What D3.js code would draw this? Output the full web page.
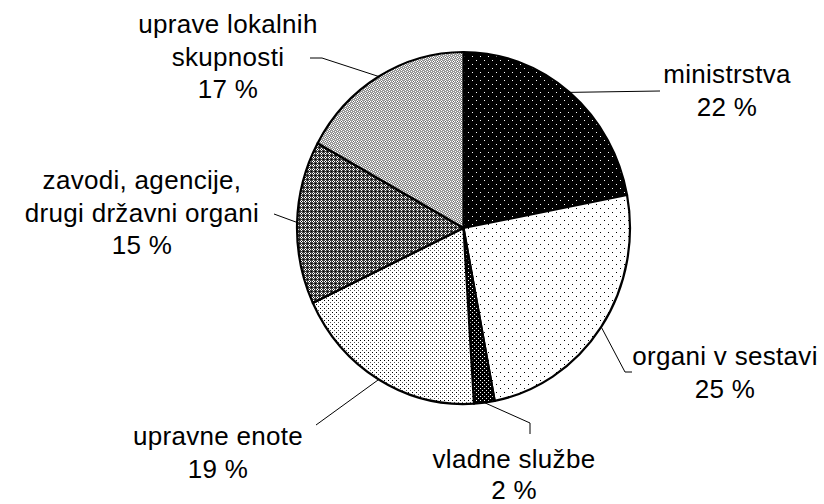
<!DOCTYPE html>
<html><head><meta charset="utf-8">
<script src="https://cdn.jsdelivr.net/npm/d3@7"></script>
<style>html,body{margin:0;padding:0;background:#fff;}</style>
</head><body>
<svg id="c" width="824" height="504"></svg>
<script>
const categories = ["ministrstva","organi v sestavi","vladne službe","upravne enote","zavodi, agencije, drugi državni organi","uprave lokalnih skupnosti"];
const values = [22, 25, 2, 19, 15, 17];
const labelLines = [["ministrstva"],["organi v sestavi"],["vladne službe"],["upravne enote"],["zavodi, agencije,","drugi državni organi"],["uprave lokalnih","skupnosti"]];

const W=824,H=504, cx=463.5, cy=228, ry=176, rx=166.5;
const svg=d3.select("#c");
const defs=svg.append("defs");

function pat(id,size,bg,pix){
  const p=defs.append("pattern").attr("id",id).attr("patternUnits","userSpaceOnUse")
    .attr("width",size).attr("height",size);
  p.append("rect").attr("width",size).attr("height",size).attr("fill",bg);
  pix.forEach(([x,y,c])=>p.append("rect").attr("x",x).attr("y",y).attr("width",1).attr("height",1).attr("fill",c));
}
pat("p0",8,"#000",[[0,0,"#fff"],[4,4,"#fff"]]);
pat("p1",8,"#fff",[[0,0,"#000"],[4,4,"#000"]]);
pat("p2",4,"#000",[[0,0,"#fff"],[2,2,"#fff"]]);
pat("p3",4,"#fff",[[0,0,"#000"],[2,2,"#555"]]);
pat("p4",4,"#404040",[[0,1,"#fff"],[1,0,"#fff"],[1,2,"#fff"],[2,1,"#fff"],[1,1,"#000"],[3,3,"#000"]]);
pat("p5",4,"#9a9a9a",[[0,1,"#fff"],[1,0,"#fff"],[1,2,"#fff"],[2,1,"#fff"],[1,1,"#555"],[3,3,"#fff"]]);

const pie=d3.pie().sort(null).value(d=>d)(values);
const pt=a=>[cx+rx*Math.sin(a), cy-ry*Math.cos(a)];
function slicePath(d){
  const p=d3.path();
  const s=pt(d.startAngle), e=pt(d.endAngle);
  p.moveTo(cx,cy); p.lineTo(s[0],s[1]);
  const large=(d.endAngle-d.startAngle)>Math.PI?1:0;
  return p.toString()+`A${rx},${ry} 0 ${large} 1 ${e[0]},${e[1]}Z`;
}
svg.append("g").selectAll("path").data(pie).join("path")
  .attr("d",slicePath).attr("fill",(d,i)=>`url(#p${i})`)
  .attr("stroke","#000").attr("stroke-width",2.2).attr("stroke-linejoin","round");

const leaders=[
  [[660,91]],
  [[625,372],[632,372]],
  [[530,423],[530,434]],
  [[316,425]],
  [[274,214]],
  [[322,58],[310,58]]
];
const labelPos=[
  [727,83,"middle"],[725,365,"middle"],[514,468,"middle"],[218,445,"middle"],[142,189,"middle"],[228,33,"middle"]
];
pie.forEach((d,i)=>{
  const pts=[pt((d.startAngle+d.endAngle)/2)].concat(leaders[i]);
  svg.append("path").attr("d",d3.line()(pts)).attr("fill","none").attr("stroke","#000").attr("stroke-width",1);
});
const fs=26, lh=32.5;
labelLines.forEach((lines,i)=>{
  const [x,y,anc]=labelPos[i];
  const t=svg.append("text").attr("font-family","Liberation Sans, Arial, sans-serif").attr("font-size",fs)
    .attr("letter-spacing",0.3).attr("text-anchor",anc).attr("fill","#000");
  lines.concat([values[i]+" %"]).forEach((s,k)=>t.append("tspan").attr("x",x).attr("y",y+k*(i===2?31:lh)).text(s));
});
</script>
</body></html>
